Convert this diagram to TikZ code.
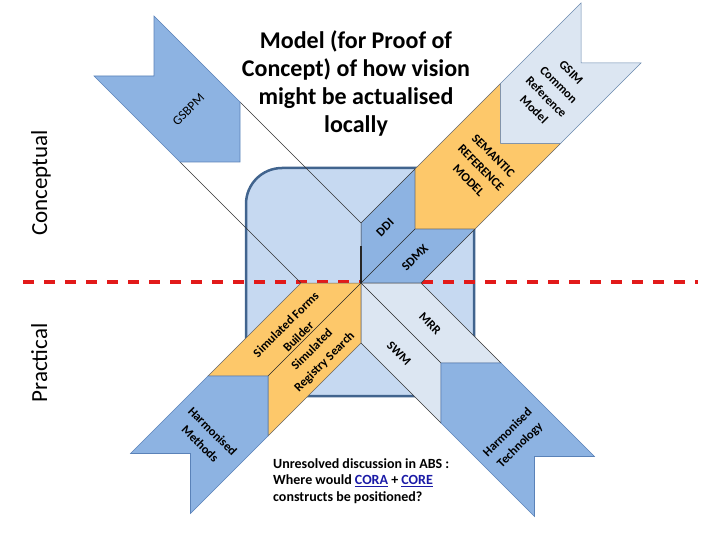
\documentclass[tikz,border=0pt]{standalone}
\usepackage{fontspec}
\setmainfont{Carlito}
\usetikzlibrary{calc}
\definecolor{sqfill}{HTML}{C6D9F1}
\definecolor{sqdraw}{HTML}{41648E}
\definecolor{midblue}{HTML}{8DB3E2}
\definecolor{midblueline}{HTML}{5A82B8}
\definecolor{paleblue}{HTML}{DCE6F2}
\definecolor{paleline}{HTML}{6A88AE}
\definecolor{orangefill}{HTML}{FDC86A}
\definecolor{dashred}{HTML}{E21A1A}
\definecolor{linkblue}{HTML}{1A1AA6}
\newcommand{\armpiece}[5]{%
  \path[#5] ($(C)+({#1*#3},{#2*#3})$) -- ($(C)+({#1*(#3+60)},{#2*#3})$)
    -- ($(C)+({#1*(#4+60)},{#2*#4})$) -- ($(C)+({#1*#4},{#2*#4})$)
    -- ($(C)+({#1*#4},{#2*(#4+60)})$) -- ($(C)+({#1*#3},{#2*(#3+60)})$) -- cycle;}
\newcommand{\armdivide}[4]{%
  \draw[divline] ($(C)+({#1*#3},{#2*#3})$) -- ($(C)+({#1*#4},{#2*#4})$);}
\begin{document}
\begin{tikzpicture}[x=1pt,y=-1pt,
  divline/.style={draw=black!85, line width=0.5pt},
  bandline/.style={draw=black!80, line width=0.5pt},
  bluepiece/.style={fill=midblue, draw=midblueline, line width=0.6pt},
  darkbluepiece/.style={fill=midblue, draw=black!80, line width=0.5pt},
  orangepiece/.style={fill=orangefill, draw=black!60, line width=0.5pt},
  palepiece/.style={fill=paleblue, draw=paleline, line width=0.5pt},
  palepiecedark/.style={fill=paleblue, draw=black!80, line width=0.5pt},
  seglab/.style={font=\bfseries\fontsize{12.5}{17.5}\selectfont, align=center, inner sep=0pt, text=black},
  sidelab/.style={font=\fontsize{23}{28}\selectfont, rotate=90, anchor=base, inner sep=0pt},
]
\useasboundingbox (0,0) rectangle (720,540);
\coordinate (C) at (361,283);
% background square
\draw[sqdraw, line width=2.5pt, fill=sqfill, rounded corners=36pt] (246,168) rectangle (474,396);
% red divider
\coordinate (redL) at (23,282);
\coordinate (redR) at (698,282);
\draw[dashred, line width=4pt, dash pattern=on 11pt off 10pt] (redL) -- (redR);
% upper-left band (outline only)
\draw[bandline] (361,223) -- (240,102);
\draw[bandline] (301,283) -- (180,162);
% upper-left: GSBPM
\armpiece{-1}{-1}{121}{207}{bluepiece}
% upper-right
\armpiece{1}{-1}{0}{54}{darkbluepiece}
\armdivide{1}{-1}{0}{54}
\armpiece{1}{-1}{54}{139.5}{orangepiece}
\armpiece{1}{-1}{139.5}{220}{palepiece}
% lower-left
\armpiece{-1}{1}{0}{93}{orangepiece}
\armdivide{-1}{1}{0}{93}
\armpiece{-1}{1}{93}{170.5}{bluepiece}
% lower-right
\armpiece{1}{1}{0}{80}{palepiecedark}
\armdivide{1}{1}{0}{80}
\armpiece{1}{1}{80}{173.5}{bluepiece}
% darker stub at centre
\draw[black!85, line width=1.1pt] (361,246) -- (C);
% title
\node[font=\bfseries\fontsize{24}{28}\selectfont, align=center, anchor=north, inner sep=0pt] (title) at (356,30.5)
  {Model (for Proof of\\Concept) of how vision\\might be actualised\\locally};
% side labels
\node[sidelab] (concept) at (47,183) {Conceptual};
\node[sidelab] (pract) at (47,363) {Practical};
% arm labels
\node[seglab, font=\fontsize{13}{18}\selectfont, rotate=45] (gsbpm) at (188.5,109.5) {GSBPM};
\node[seglab, rotate=45] (ddi) at (385,227.5) {DDI};
\node[seglab, rotate=45] (sdmx) at (415,257.5) {SDMX};
\node[seglab, rotate=-45] (srm) at (481,168) {SEMANTIC\\REFERENCE\\MODEL};
\node[seglab, rotate=-45] (gsim) at (552.5,91) {GSIM\\Common\\Reference\\Model};
\node[seglab, rotate=45] (sfb) at (292,330.5) {Simulated Forms\\Builder};
\node[seglab, rotate=45] (srs) at (318.5,356) {Simulated\\Registry Search};
\node[seglab, rotate=-45] (hm) at (206.5,437.5) {Harmonised\\Methods};
\node[seglab, rotate=-45] (mrr) at (430,323.5) {MRR};
\node[seglab, rotate=-45] (swm) at (399,353.5) {SWM};
\node[seglab, rotate=45] (ht) at (514,439) {Harmonised\\Technology};
% bottom note
\node[font=\bfseries\fontsize{14}{16.8}\selectfont, align=left, anchor=north west, inner sep=0pt] (note) at (273,458)
  {Unresolved discussion in ABS :\\Where would \textcolor{linkblue}{\underline{CORA}} + \textcolor{linkblue}{\underline{CORE}}\\constructs be positioned?};
\end{tikzpicture}
\end{document}
